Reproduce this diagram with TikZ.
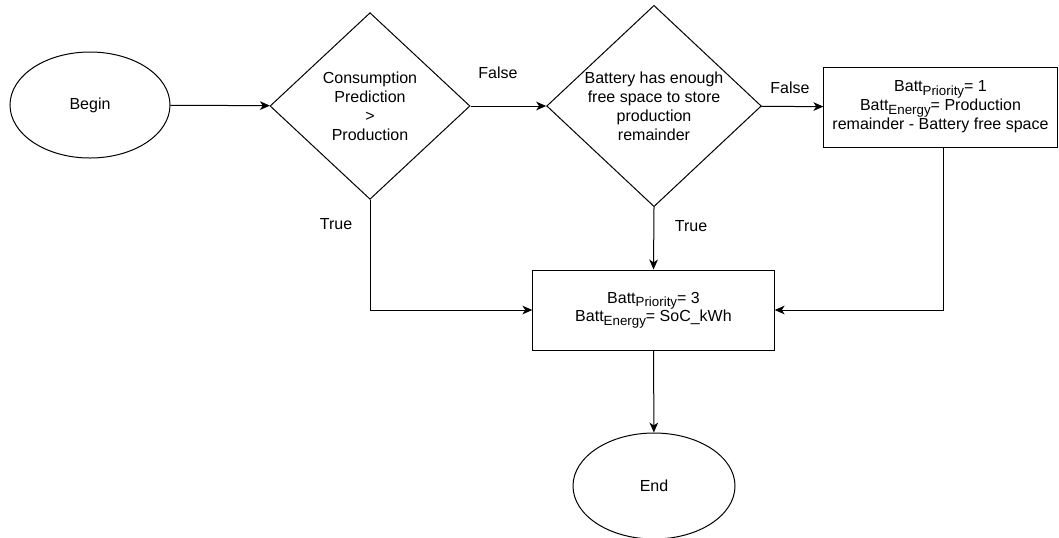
\documentclass[tikz,border=0pt]{standalone}
\usepackage{fontspec}
\setmainfont{Liberation Sans}
\usetikzlibrary{arrows.meta,shapes.geometric}
\newcommand{\battsub}[1]{\raisebox{-0.4ex}{\fontsize{10}{12}\selectfont #1}}

\begin{document}
\begin{tikzpicture}[x=0.75pt, y=-0.75pt,
  every node/.style={font=\fontsize{12}{14.2}\selectfont, align=center},
  terminal/.style={draw, ellipse, line width=0.75pt, minimum width=120pt, minimum height=79.5pt},
  decision/.style={draw, diamond, line width=0.75pt, inner sep=-6pt},
  process/.style={draw, rectangle, line width=0.75pt, minimum height=60pt},
  flow/.style={line width=0.75pt, -{Stealth[length=7.5pt, width=6.5pt, inset=2.2pt]}}]
  \useasboundingbox (0,0) rectangle (1059,537);
  \node[terminal] (begin) at (90,105) {Begin};
  \node[decision, minimum width=150pt, minimum height=140pt] (cons) at (370,106)
    {Consumption\\Prediction\\>\\Production};
  \node[decision, minimum width=161pt, minimum height=151pt] (space) at (654,106)
    {Battery has enough\\free space to store\\production\\remainder};
  \node[process, minimum width=175pt] (prio1) at (940.5,107)
    {Batt\battsub{Priority}= 1\\Batt\battsub{Energy}= Production\\remainder - Battery free space};
  \node[process, minimum width=181pt] (prio3) at (653.5,310)
    {Batt\battsub{Priority}= 3\\Batt\battsub{Energy}= SoC\_kWh};
  \node[terminal, minimum width=121.5pt] (end) at (654,486) {End};
  \draw[flow] (begin) -- (cons);
  \draw[flow] (cons) -- (space);
  \draw[flow] (space) -- (prio1);
  \draw[flow] (cons.south) |- (prio3.west);
  \draw[flow] (space.south) -- (prio3.north);
  \draw[flow] ([xshift=2.6pt]prio1.south) |- (prio3.east);
  \draw[flow] (prio3) -- (end);
  \node (f1) at (498,73) {False};
  \node (f2) at (790,88) {False};
  \node (t1) at (336,224) {True};
  \node (t2) at (691,226) {True};
\end{tikzpicture}
\end{document}
